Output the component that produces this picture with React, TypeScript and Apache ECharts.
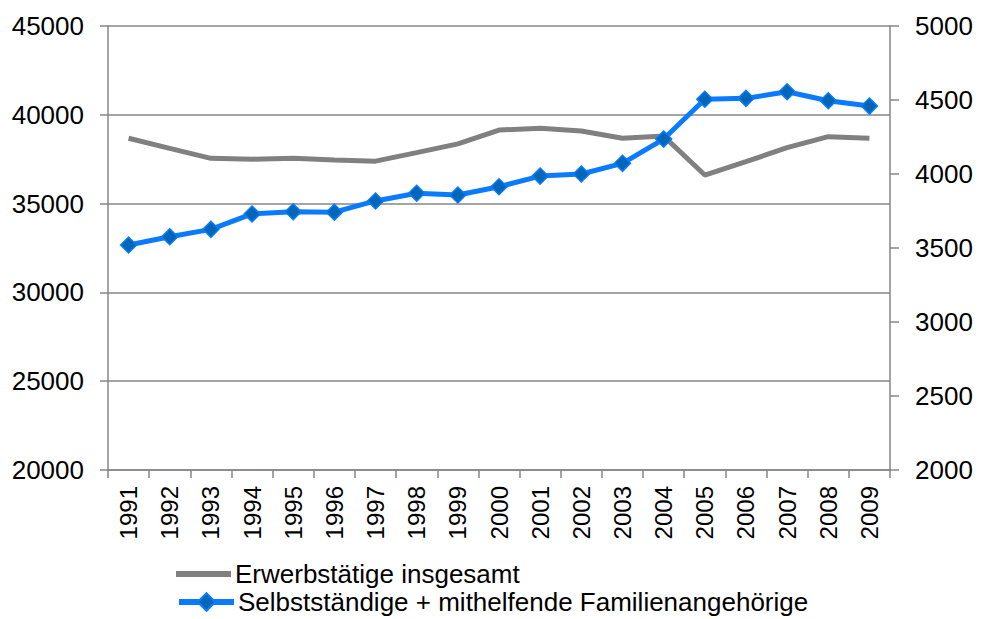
import React, { useEffect, useRef } from "react";
import * as echarts from "echarts";

const years = ["1991","1992","1993","1994","1995","1996","1997","1998","1999","2000","2001","2002","2003","2004","2005","2006","2007","2008","2009"];
const erwerbstaetige = [38680, 38110, 37550, 37500, 37560, 37450, 37390, 37870, 38360, 39140, 39240, 39090, 38680, 38800, 36610, 37360, 38150, 38770, 38680];
const selbststaendige = [3520, 3576, 3626, 3730, 3745, 3742, 3818, 3870, 3858, 3914, 3986, 4000, 4072, 4236, 4505, 4511, 4556, 4495, 4459];
const seriesNames = ["Erwerbstätige insgesamt", "Selbstständige + mithelfende Familienangehörige"];

export default function App() {
  const ref = useRef<HTMLDivElement>(null);
  useEffect(() => {
    if (!ref.current) return;
    const chart = echarts.init(ref.current, null, { renderer: "svg" });
    const font = "Liberation Sans, Arial, sans-serif";
    const axisColor = "#868686";
    const plain = (v: number) => String(v);
    chart.setOption({
      animation: false,
      textStyle: { fontFamily: font },
      grid: { left: 108, right: 101, top: 26, bottom: 149, containLabel: false },
      legend: [
        {
          orient: "vertical",
          left: 176,
          top: 561,
          padding: 0,
          itemGap: 4,
          itemWidth: 55,
          itemHeight: 6,
          textStyle: { fontSize: 26, color: "#000", fontFamily: font, padding: [0, 0, 0, -1] },
          data: [{ name: seriesNames[0], icon: "rect" }],
        },
        {
          orient: "vertical",
          left: 176,
          top: 589,
          padding: 0,
          itemGap: 4,
          itemWidth: 55,
          itemHeight: 22,
          lineStyle: { width: 6 },
          textStyle: { fontSize: 26, color: "#000", fontFamily: font, padding: [0, 0, 0, -1] },
          data: [seriesNames[1]],
        },
      ],
      xAxis: {
        type: "category",
        data: years,
        boundaryGap: true,
        axisLine: { lineStyle: { color: axisColor, width: 1.5 } },
        axisTick: { show: true, length: 8, lineStyle: { color: axisColor, width: 1.5 } },
        axisLabel: { rotate: 90, fontSize: 24, color: "#000", margin: 16, fontFamily: font },
      },
      yAxis: [
        {
          type: "value",
          min: 20000,
          max: 45000,
          interval: 5000,
          position: "left",
          axisLine: { show: true, lineStyle: { color: axisColor, width: 1.5 } },
          axisTick: { show: true, length: 8, lineStyle: { color: axisColor, width: 1.5 } },
          axisLabel: { fontSize: 26, color: "#000", margin: 24, fontFamily: font, formatter: plain },
          splitLine: { show: true, lineStyle: { color: axisColor, width: 1.5 } },
        },
        {
          type: "value",
          min: 2000,
          max: 5000,
          interval: 500,
          position: "right",
          axisLine: { show: true, lineStyle: { color: axisColor, width: 1.5 } },
          axisTick: { show: true, length: 9, lineStyle: { color: axisColor, width: 1.5 } },
          axisLabel: { fontSize: 26, color: "#000", margin: 25, fontFamily: font, formatter: plain },
          splitLine: { show: false },
        },
      ],
      series: [
        {
          name: seriesNames[0],
          type: "line",
          yAxisIndex: 0,
          data: erwerbstaetige,
          symbol: "none",
          lineStyle: { color: "#808080", width: 5 },
          itemStyle: { color: "#808080" },
        },
        {
          name: seriesNames[1],
          type: "line",
          yAxisIndex: 1,
          data: selbststaendige,
          symbol: "diamond",
          symbolSize: 16,
          lineStyle: { color: "#0A7BFF", width: 5 },
          itemStyle: { color: "#0066B8", borderColor: "#0A7BFF", borderWidth: 1.5 },
        },
      ],
    });
    return () => chart.dispose();
  }, []);
  return <div ref={ref} style={{ width: 991, height: 619, position: "absolute", left: 0, top: 0 }} />;
}
